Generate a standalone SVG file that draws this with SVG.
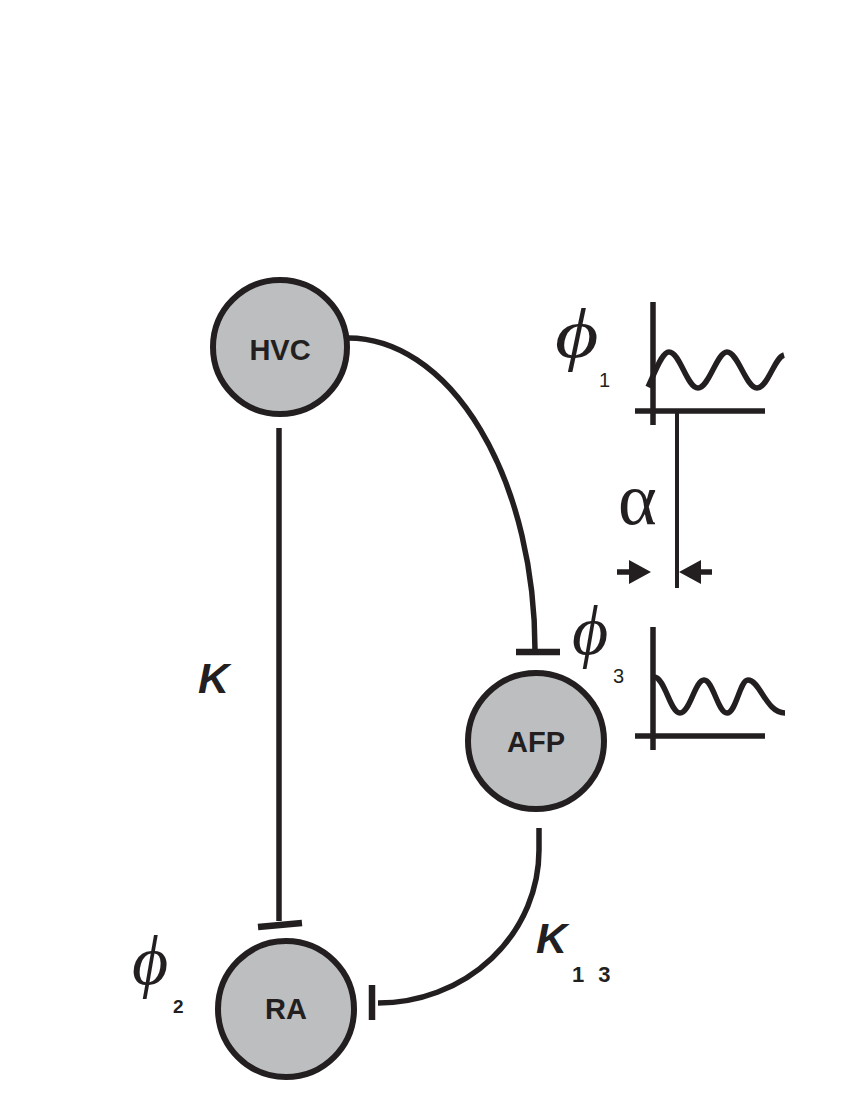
<svg xmlns="http://www.w3.org/2000/svg" width="850" height="1100" viewBox="0 0 850 1100">
<style>
.node{fill:#bcbec0;stroke:#231f20;stroke-width:6}
.lbl{font-family:"Liberation Sans",Arial,sans-serif;font-weight:bold;font-size:29px;fill:#231f20;text-anchor:middle}
.ln{fill:none;stroke:#231f20;stroke-width:5.5}
.bar{fill:none;stroke:#231f20;stroke-width:6.5}
.ax{fill:none;stroke:#231f20;stroke-width:5.5}
.phi{font-family:"Liberation Serif","DejaVu Serif",serif;font-style:italic;font-size:70px;fill:#231f20}
.sub{font-family:"Liberation Sans",Arial,sans-serif;font-size:20px;fill:#231f20}
.k{font-family:"Liberation Sans",Arial,sans-serif;font-weight:bold;font-style:italic;font-size:43px;fill:#231f20}
</style>
<rect width="850" height="1100" fill="#ffffff"/>
<g id="connectors">
<path class="ln" d="M279,428 L279,921"/>
<path class="bar" d="M258,927 L302,923"/>
<path class="ln" d="M348,338 A187,312 0 0 1 535,650"/>
<path class="bar" d="M516,652 L560,652"/>
<path class="ln" d="M539,828 L539,850 A161,153 0 0 1 378,1003"/>
<path class="bar" d="M372,985 L372,1020"/>
</g>
<g id="node-HVC">
<circle class="node" cx="280" cy="347" r="67"/>
<text class="lbl" x="280" y="360">HVC</text>
</g>
<g id="node-AFP">
<circle class="node" cx="536" cy="741" r="68"/>
<text class="lbl" x="536" y="752">AFP</text>
</g>
<g id="node-RA">
<circle class="node" cx="286" cy="1009" r="68"/>
<text class="lbl" x="286" y="1019">RA</text>
</g>
<g id="labels">
<text class="k" x="198" y="693">K</text>
<text class="k" x="536" y="953">K</text>
<text x="572" y="982" style="font-family:'Liberation Sans',Arial,sans-serif;font-weight:bold;font-size:22px;fill:#231f20;letter-spacing:4px">1 3</text>
<text class="phi" x="132" y="984">ϕ</text>
<text x="173" y="1013" style="font-family:'Liberation Sans',Arial,sans-serif;font-weight:bold;font-size:19px;fill:#231f20">2</text>
<text class="phi" x="572" y="654">ϕ</text>
<text class="sub" x="613" y="683">3</text>
<text class="phi" transform="translate(555,357) scale(1.2,1)" x="0" y="0">ϕ</text>
<text class="sub" x="599" y="387">1</text>
<text x="618" y="524" style="font-family:'Liberation Serif','DejaVu Serif',serif;font-size:74px;fill:#231f20">α</text>
</g>
<g id="graph1">
<path class="ax" d="M653,302 L653,425 M635,411 L765,411"/>
<path class="ax" d="M648,387 C656,370 662,352 669,352 C680,352 687,388 698,388 C709,388 717,352 727,352 C738,352 746,388 757,388 C768,388 774,358 784,355"/>
<path class="ax" style="stroke-width:4" d="M677,411 L677,588"/>
<path class="ax" d="M617,572 L632,572 M698,572 L712,572"/>
<path fill="#231f20" d="M629,560 L651,572 L629,584 Z M701,560 L679,572 L701,584 Z"/>
</g>
<g id="graph2">
<path class="ax" d="M653,627 L653,750 M635,736 L765,736"/>
<path class="ax" d="M654,677 C665,677 670,713 680,713 C690,713 695,680 704,680 C713,680 718,713 727,713 C736,713 740,680 748,680 C760,680 766,713 785,713"/>
</g>
</svg>
